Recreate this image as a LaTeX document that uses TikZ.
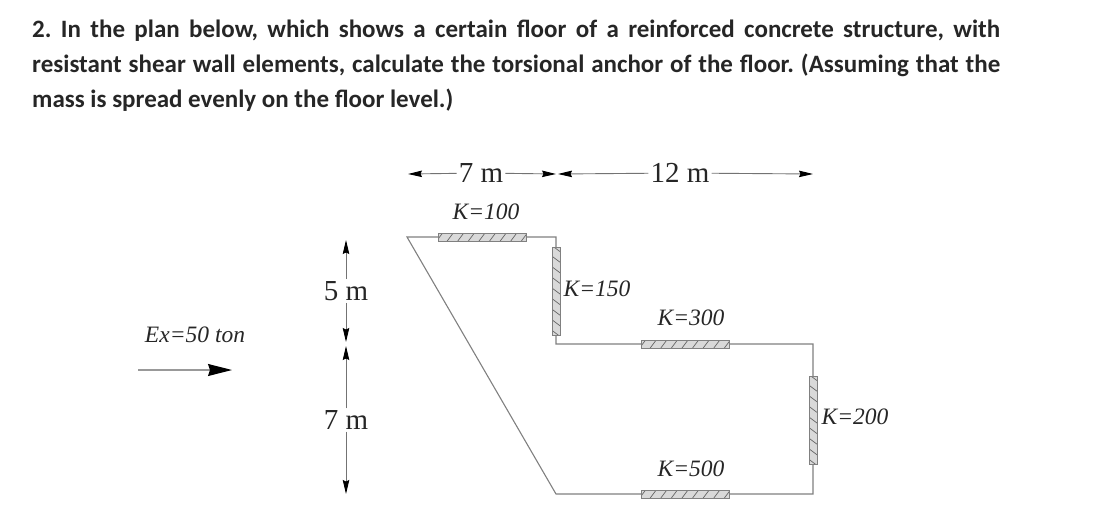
\documentclass[tikz,border=0pt]{standalone}
\usepackage{fontspec}
\newfontfamily\headfont{Carlito}
\newfontfamily\planfont{Liberation Serif}
\usetikzlibrary{arrows.meta}
\tikzset{
  headline/.style={anchor=north west,inner sep=0pt,text width=968pt,align=justify,font=\headfont\bfseries\fontsize{25}{35}\selectfont\frenchspacing,text=black!85},
  dimlabel/.style={inner sep=2pt,font=\planfont\fontsize{29}{33}\selectfont,text=black!85},
  stifflabel/.style={inner sep=1pt,font=\planfont\itshape\fontsize{23.5}{27}\selectfont,text=black!85},
  outline/.style={draw=black!50,line width=1.1pt,line join=miter},
  dimline/.style={draw=black!55,line width=0.9pt,-{Stealth[length=14pt,width=6.5pt,inset=1.5pt,black]}},
  forceline/.style={draw=black!40,line width=1.2pt,-{Stealth[length=24pt,width=12pt,inset=2pt,black]}},
  wallh/.style={draw=black!50,fill=black!15,line width=0.7pt,minimum width=88pt,minimum height=8pt,inner sep=0pt,
    path picture={\foreach \i in {-4,...,4}
      \draw[black!60,line width=0.7pt] ([xshift=\i*10.6pt-3pt]path picture bounding box.south) -- ([xshift=\i*10.6pt+3pt]path picture bounding box.north);}},
  wallv/.style={draw=black!50,fill=black!15,line width=0.7pt,minimum width=8pt,minimum height=88pt,inner sep=0pt,
    path picture={\foreach \i in {-4,...,4}
      \draw[black!60,line width=0.7pt] ([yshift=\i*10.6pt+3pt]path picture bounding box.west) -- ([yshift=\i*10.6pt-3pt]path picture bounding box.east);}}
}
\begin{document}
\begin{tikzpicture}[x=1pt,y=-1pt]
  \useasboundingbox (0,0) rectangle (1095,507);
  \node[headline] (question) at (32,20) {2. In the plan below, which shows a certain floor of a reinforced concrete structure, with\linebreak resistant shear wall elements, calculate the torsional anchor of the floor. (Assuming that the\linebreak mass is spread evenly on the floor level.)};
  % floor outline
  \coordinate (a) at (407,237);
  \coordinate (b) at (556,237);
  \coordinate (c) at (556,344);
  \coordinate (d) at (813,344);
  \coordinate (e) at (813,494);
  \coordinate (f) at (556,494);
  \draw[outline] (a) -- (b) -- (c) -- (d) -- (e) -- (f) -- cycle;
  % walls
  \node[wallh] (wall100) at (482,237) {};
  \node[wallv] (wall150) at (556,291) {};
  \node[wallh] (wall300) at (685,344) {};
  \node[wallv] (wall200) at (813,420) {};
  \node[wallh] (wall500) at (685,494) {};
  \node[stifflabel] (k100) at (486,212) {K=100};
  \node[stifflabel] (k150) at (597,289) {K=150};
  \node[stifflabel] (k300) at (691,318) {K=300};
  \node[stifflabel] (k200) at (855,417) {K=200};
  \node[stifflabel] (k500) at (691,469) {K=500};
  % dimensions
  \node[dimlabel] (top7) at (481,173) {7 m};
  \node[dimlabel] (top12) at (680,173) {12 m};
  \node[dimlabel] (side5) at (346,291) {5 m};
  \node[dimlabel] (side7) at (346,420) {7 m};
  \coordinate (t0) at (408,174);
  \coordinate (t1) at (556,174);
  \coordinate (t2) at (558,174);
  \coordinate (t3) at (813,174);
  \coordinate (s0) at (346,240);
  \coordinate (s1) at (346,342);
  \coordinate (s2) at (346,346);
  \coordinate (s3) at (346,494);
  \draw[dimline] (top7) -- (t0);
  \draw[dimline] (top7) -- (t1);
  \draw[dimline] (top12) -- (t2);
  \draw[dimline] (top12) -- (t3);
  \draw[dimline] (side5) -- (s0);
  \draw[dimline] (side5) -- (s1);
  \draw[dimline] (side7) -- (s2);
  \draw[dimline] (side7) -- (s3);
  % load
  \node[stifflabel] (load) at (195,335) {Ex=50 ton};
  \coordinate (f0) at (138,370);
  \coordinate (f1) at (232,370);
  \draw[forceline] (f0) -- (f1);
\end{tikzpicture}
\end{document}
